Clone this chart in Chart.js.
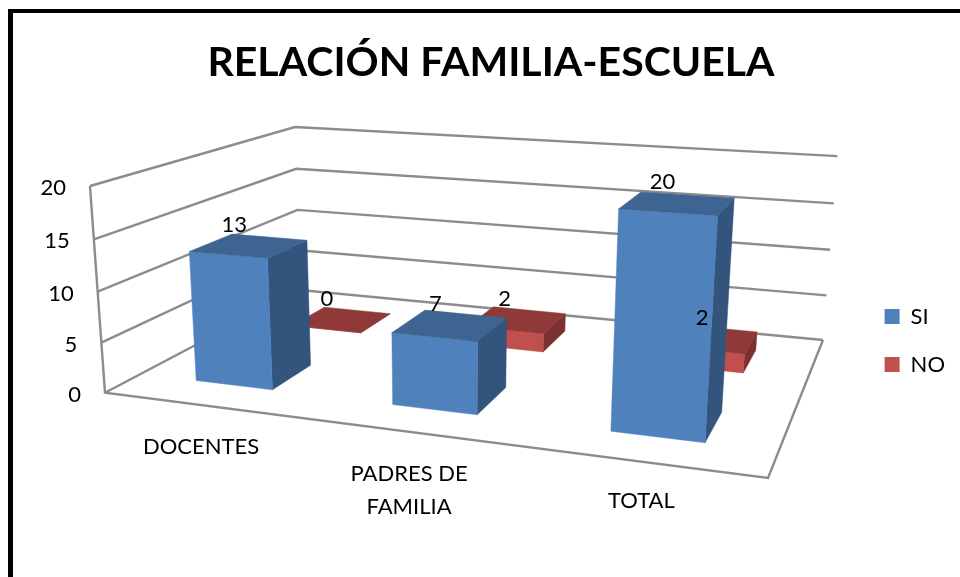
<!DOCTYPE html>
<html><head><meta charset="utf-8">
<style>
html,body{margin:0;padding:0;background:#fff;overflow:hidden}
#wrap{position:relative;width:960px;height:577px}
#frame{position:absolute;left:8px;top:9px;right:0;bottom:0;border-left:5px solid #000;border-top:4px solid #000;pointer-events:none}
canvas{position:absolute;left:0;top:0}
</style>
<script src="https://cdn.jsdelivr.net/npm/chart.js@4/dist/chart.umd.min.js"></script>
</head><body>
<div id="wrap"><canvas id="c" width="960" height="577"></canvas><div id="frame"></div></div>
<script>
const titleText = 'RELACIÓN FAMILIA-ESCUELA';
const categories = ['DOCENTES', 'PADRES DE FAMILIA', 'TOTAL'];
const categoryLines = [['DOCENTES'], ['PADRES DE', 'FAMILIA'], ['TOTAL']];
const seriesSI = [13, 7, 20];
const seriesNO = [0, 2, 2];
const yTicks = [0, 5, 10, 15, 20];

const FONT = 'Lato, Carlito, sans-serif';
const faces = {
  SI: {front: '#4F81BD', top: '#3E6492', side: '#32547D'},
  NO: {front: '#C0504D', top: '#8F3A38', side: '#7A312F'}
};
// Perspective camera: maps (u across, v deep, z up), each 0..1, to the page.
const CAM = [[545.5, 280.1, -18.8, 105], [12.2, -20.4, -214.5, 392.7], [-0.153, 0.2838, -0.042, 1]];
function proj(u, v, z) {
  const w = CAM[2][0]*u + CAM[2][1]*v + CAM[2][2]*z + CAM[2][3];
  return [(CAM[0][0]*u + CAM[0][1]*v + CAM[0][2]*z + CAM[0][3]) / w,
          (CAM[1][0]*u + CAM[1][1]*v + CAM[1][2]*z + CAM[1][3]) / w];
}
function poly(ctx, pts, fill) {
  ctx.beginPath();
  pts.forEach((p, i) => i ? ctx.lineTo(p[0], p[1]) : ctx.moveTo(p[0], p[1]));
  ctx.closePath();
  ctx.fillStyle = fill;
  ctx.strokeStyle = fill;
  ctx.lineWidth = 0.5;
  ctx.fill();
  ctx.stroke();
}
function line(ctx, pts) {
  ctx.beginPath();
  pts.forEach((p, i) => i ? ctx.lineTo(p[0], p[1]) : ctx.moveTo(p[0], p[1]));
  ctx.stroke();
}
const DEPTH_HALF = 0.1;

const scene3d = {
  id: 'scene3d',
  afterLayout(chart) {
    const lg = chart.legend;
    lg.top += 52; lg.bottom += 52; lg.left -= 5; lg.right -= 5;
  },
  beforeDatasetsDraw(chart) {
    const {ctx, scales: {x, y}, data} = chart;
    const zOf = px => (y.bottom - px) / (y.bottom - y.top);
    ctx.save();
    // walls and floor
    ctx.strokeStyle = '#8C8C8C';
    ctx.lineWidth = 2.4;
    ctx.lineJoin = 'miter';
    y.ticks.forEach(t => {
      const z = zOf(y.getPixelForValue(t.value));
      line(ctx, [proj(0, 0, z), proj(0, 1, z), proj(1, 1, z)]);
    });
    line(ctx, [proj(0, 0, 1), proj(0, 0, 0), proj(1, 0, 0), proj(1, 1, 0)]);
    // tick labels follow the slanted wall edge
    ctx.fillStyle = '#000';
    ctx.font = '22px ' + FONT;
    ctx.textAlign = 'right';
    ctx.textBaseline = 'middle';
    y.ticks.forEach(t => {
      const z = zOf(y.getPixelForValue(t.value));
      const p = proj(0, 0, z);
      ctx.fillText(String(t.value), p[0] - 24, p[1] + 2);
    });
    // bars, farthest series first
    for (let ds = data.datasets.length - 1; ds >= 0; ds--) {
      const meta = chart.getDatasetMeta(ds);
      const c = faces[data.datasets[ds].label];
      meta.data.forEach(el => {
        const hw = el.width / 2 / (x.right - x.left);
        const uc = (el.x - x.left) / (x.right - x.left);
        const u0 = uc - hw, u1 = uc + hw;
        const vc = (ds + 0.5) / data.datasets.length;
        const v0 = vc - DEPTH_HALF, v1 = vc + DEPTH_HALF;
        const z = zOf(el.y);
        poly(ctx, [proj(u1, v0, 0), proj(u1, v1, 0), proj(u1, v1, z), proj(u1, v0, z)], c.side);
        poly(ctx, [proj(u0, v0, 0), proj(u1, v0, 0), proj(u1, v0, z), proj(u0, v0, z)], c.front);
        poly(ctx, [proj(u0, v0, z), proj(u1, v0, z), proj(u1, v1, z), proj(u0, v1, z)], c.top);
      });
    }
    ctx.restore();
  },
  beforeDatasetDraw() { return false; },
  afterDatasetsDraw(chart) {
    const {ctx, scales: {x, y}, data} = chart;
    const zOf = px => (y.bottom - px) / (y.bottom - y.top);
    const nudgeX = [[-15, -15, -15], [-15, -13, -8]];
    const catDrop = [42, 42, 39];
    ctx.save();
    ctx.fillStyle = '#000';
    ctx.font = '22px ' + FONT;
    ctx.textAlign = 'center';
    ctx.textBaseline = 'middle';
    // value labels
    data.datasets.forEach((d, ds) => {
      const meta = chart.getDatasetMeta(ds);
      meta.data.forEach((el, i) => {
        const uc = (el.x - x.left) / (x.right - x.left);
        const vc = (ds + 0.5) / data.datasets.length;
        const p = proj(uc, vc, zOf(el.y));
        ctx.fillText(String(d.data[i]), p[0] + nudgeX[ds][i], p[1] - 21);
      });
    });
    // category labels under the front floor edge
    categoryLines.forEach((lines, i) => {
      const u = (x.getPixelForValue(i) - x.left) / (x.right - x.left);
      const p = proj(u, 0, 0);
      lines.forEach((s, k) => ctx.fillText(s, p[0], p[1] + catDrop[i] + k * 33));
    });
    ctx.restore();
  }
};

new Chart(document.getElementById('c'), {
  type: 'bar',
  data: {
    labels: categories,
    datasets: [
      {label: 'SI', data: seriesSI, backgroundColor: faces.SI.front, borderWidth: 0},
      {label: 'NO', data: seriesNO, backgroundColor: faces.NO.front, borderWidth: 0}
    ]
  },
  options: {
    responsive: false,
    animation: false,
    grouped: false,
    categoryPercentage: 1,
    barPercentage: 0.4,
    layout: {padding: {left: 22, right: 0, top: 0, bottom: 0}},
    scales: {
      x: {display: false},
      y: {display: false, min: 0, max: 20, afterBuildTicks: s => { s.ticks = yTicks.map(v => ({value: v})); }}
    },
    plugins: {
      title: {display: true, text: titleText, color: '#000', font: {family: FONT, size: 41, weight: 'bold'}, padding: {top: 38, bottom: 10}},
      legend: {
        position: 'right',
        labels: {color: '#000', font: {family: FONT, size: 22}, boxWidth: 15, boxHeight: 15, padding: 26, usePointStyle: false}
      },
      tooltip: {enabled: false}
    }
  },
  plugins: [scene3d]
});
</script>
</body></html>
